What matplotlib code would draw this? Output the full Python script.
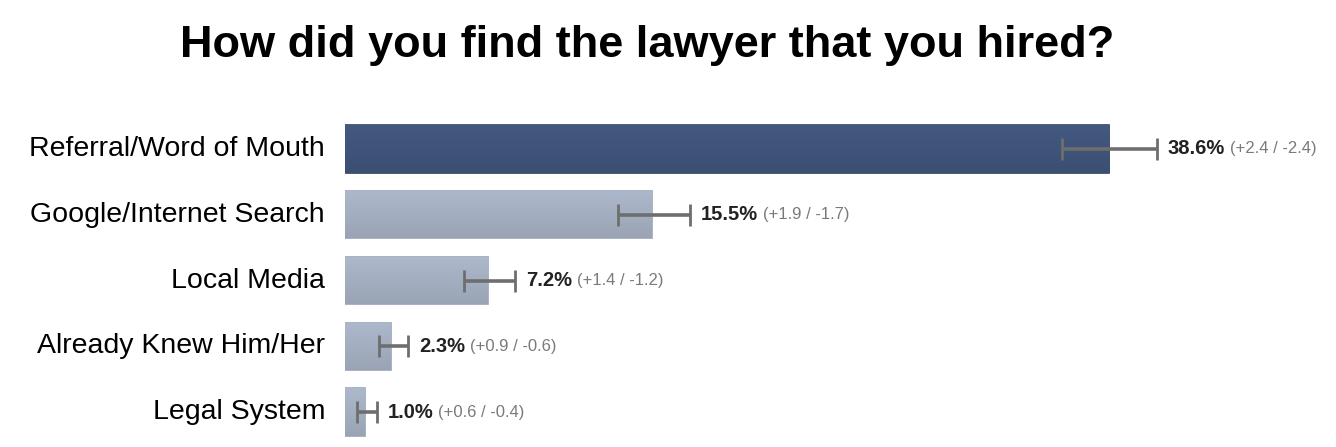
import matplotlib
matplotlib.use("Agg")
import matplotlib.pyplot as plt
import numpy as np

categories = ["Referral/Word of Mouth", "Google/Internet Search", "Local Media",
              "Already Knew Him/Her", "Legal System"]
values = [38.6, 15.5, 7.2, 2.3, 1.0]
err_plus = [2.4, 1.9, 1.4, 0.9, 0.6]
err_minus = [2.4, 1.7, 1.2, 0.6, 0.4]
title = "How did you find the lawyer that you hired?"

plt.rcParams['font.family'] = ['Liberation Sans', 'DejaVu Sans']

W, H = 1336, 447
fig = plt.figure(figsize=(W / 100, H / 100), dpi=100)
ax = fig.add_axes([345 / W, 0, 1 - 345 / W, 1])
ax.axis('off')

y = np.arange(len(categories))
colors = ['#3f5479'] + ['#a3aec0'] * 4
edges = ['#2c3f62'] + ['#98a4b7'] * 4
bars = ax.barh(y, values, height=0.72, color=colors, edgecolor=edges, linewidth=1.2, zorder=2)

# subtle vertical gradient on each bar
for b, c in zip(bars, colors):
    x0, y0 = b.get_x(), b.get_y()
    w, h = b.get_width(), b.get_height()
    grad = np.linspace(0, 1, 64).reshape(-1, 1)
    base = np.array(matplotlib.colors.to_rgb(c))
    top = np.clip(base * 1.06, 0, 1)
    bot = np.clip(base * 0.94, 0, 1)
    img = top[None, None, :] * (1 - grad[:, :, None]) + bot[None, None, :] * grad[:, :, None]
    im = ax.imshow(img, extent=(x0, x0 + w, y0 + h, y0), aspect='auto', zorder=2.5,
                   interpolation='bilinear')
    im.set_clip_path(b)

ax.errorbar(values, y, xerr=[err_minus, err_plus], fmt='none', ecolor='#6e6e6e',
            elinewidth=2.6, capsize=8, capthick=2, zorder=3)

ax.set_xlim(0, (W - 345) / 19.8)
ax.set_ylim(4 + (H - 412) / 65.75, -149 / 65.75)

for yi, v, ep, em in zip(y, values, err_plus, err_minus):
    t = ax.annotate(f"{v:.1f}%", xy=(v + ep, yi), xytext=(11, 0), textcoords='offset pixels',
                    ha='left', va='center', fontsize=14.5, fontweight='bold', color='#222222')
    ax.annotate(f"(+{ep:.1f} / -{em:.1f})", xycoords=t, xy=(1, 0.5), xytext=(5, 0),
                textcoords='offset pixels', ha='left', va='center', fontsize=12, color='#7a7a7a')

for yi, c in zip(y, categories):
    ax.annotate(c, xy=(0, yi), xytext=(-20, 0), textcoords='offset pixels',
                ha='right', va='center', fontsize=20.5, color='black')

fig.text(647 / W, 1 - 45 / H, title, ha='center', va='center', fontsize=32.5,
         fontweight='bold', color='black')

fig.savefig("out.png", dpi=100)
